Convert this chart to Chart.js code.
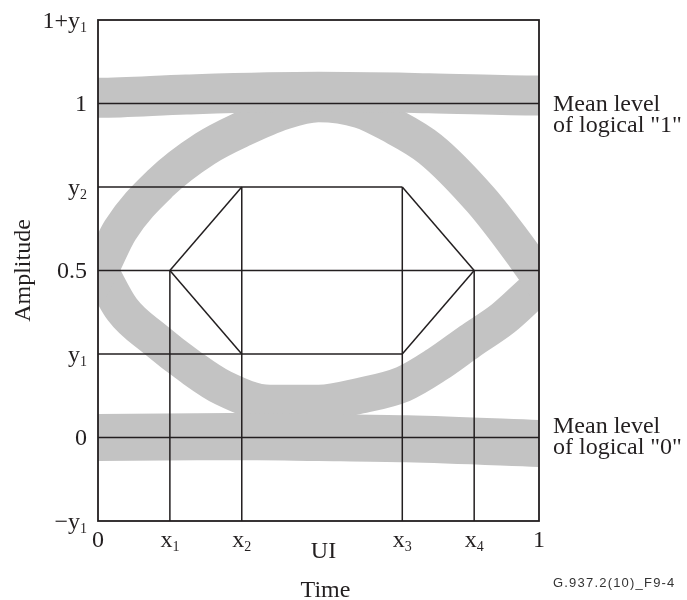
<!DOCTYPE html>
<html>
<head>
<meta charset="utf-8">
<script src="https://cdn.jsdelivr.net/npm/chart.js@4.4.1/dist/chart.umd.min.js"></script>
<style>
  html, body { margin: 0; padding: 0; background: #fff; }
  canvas { display: block; }
</style>
</head>
<body>
<canvas id="eye" width="687" height="600"></canvas>
<script>
// tick positions and labels (label = [main, subscript])
const xTickValues = [0, 0.163, 0.326, 0.69, 0.853, 1];
const xTickLabels = [["0", ""], ["x", "1"], ["x", "2"], ["x", "3"], ["x", "4"], ["1", ""]];
const yTickValues = [-0.25, 0, 0.25, 0.5, 0.75, 1, 1.25];
const yTickLabels = [["\u2212y", "1"], ["0", ""], ["y", "1"], ["0.5", ""], ["y", "2"], ["1", ""], ["1+y", "1"]];

// mask corners
const x1 = 0.163, x2 = 0.326, x3 = 0.69, x4 = 0.853;
const y1 = 0.25, y2 = 0.75;

// centre lines of the grey traces, [UI, amplitude]
const levelOneTrace = [[-0.02, 1.017], [0, 1.017], [0.2, 1.027], [0.5, 1.035], [0.75, 1.031], [1, 1.024], [1.02, 1.024]];
const levelZeroTrace = [[-0.02, 0], [0, 0], [0.3, 0.003], [0.5, 0], [0.7, -0.004], [1, -0.018], [1.02, -0.019]];
const eyeTopTrace = [[-0.03, 0.42], [0.005, 0.5], [0.05, 0.62], [0.143, 0.763], [0.243, 0.865], [0.33, 0.925],
  [0.42, 0.975], [0.5, 0.998], [0.594, 0.98], [0.663, 0.937], [0.753, 0.864], [0.867, 0.713], [0.935, 0.6],
  [0.995, 0.49], [1.03, 0.42]];
const eyeBottomTrace = [[-0.03, 0.58], [0.005, 0.5], [0.055, 0.383], [0.129, 0.294], [0.209, 0.212], [0.284, 0.148],
  [0.39, 0.104], [0.5, 0.104], [0.594, 0.125], [0.692, 0.16], [0.768, 0.218], [0.844, 0.289], [0.919, 0.357],
  [0.98, 0.43], [1.0, 0.455], [1.03, 0.52]];

const levelNames = [
  { value: 1, lines: ["Mean level", "of logical \"1\""] },
  { value: 0, lines: ["Mean level", "of logical \"0\""] }
];

// mask segments built from the corners
const maskSegments = [
  [[0, 1], [1, 1]],
  [[0, 0.5], [1, 0.5]],
  [[0, 0], [1, 0]],
  [[0, y2], [x3, y2]],
  [[0, y1], [x3, y1]],
  [[x1, 0.5], [x1, -0.25]],
  [[x2, y2], [x2, -0.25]],
  [[x3, y2], [x3, -0.25]],
  [[x4, 0.5], [x4, -0.25]],
  [[x1, 0.5], [x2, y2]],
  [[x1, 0.5], [x2, y1]],
  [[x3, y2], [x4, 0.5]],
  [[x3, y1], [x4, 0.5]]
];

const INK = "#231f20";
const BAND = "#c3c3c3";
const SERIF = '"Liberation Serif", "Times New Roman", serif';

const toPoints = arr => arr.map(([x, y]) => ({ x, y }));

const datasets = [];
maskSegments.forEach(seg => {
  datasets.push({
    data: toPoints(seg),
    showLine: true,
    borderColor: INK,
    borderWidth: 1.5,
    pointRadius: 0,
    clip: 0,
    order: 0
  });
});
[[levelOneTrace, 40], [levelZeroTrace, 47], [eyeTopTrace, 36], [eyeBottomTrace, 36]].forEach(([trace, w]) => {
  datasets.push({
    data: toPoints(trace),
    showLine: true,
    borderColor: BAND,
    borderWidth: w,
    borderJoinStyle: "round",
    cubicInterpolationMode: "monotone",
    pointRadius: 0,
    clip: 0,
    order: 1
  });
});

function drawLabel(ctx, parts, x, y, align) {
  ctx.font = "24px " + SERIF;
  const w1 = ctx.measureText(parts[0]).width;
  ctx.font = "14px " + SERIF;
  const w2 = parts[1] ? ctx.measureText(parts[1]).width : 0;
  const total = w1 + w2;
  let sx = x;
  if (align === "right") sx = x - total;
  if (align === "center") sx = x - total / 2;
  ctx.textAlign = "left";
  ctx.textBaseline = "alphabetic";
  ctx.font = "24px " + SERIF;
  ctx.fillText(parts[0], sx, y);
  if (parts[1]) {
    ctx.font = "14px " + SERIF;
    ctx.fillText(parts[1], sx + w1, y + 4);
  }
}

const labelsPlugin = {
  id: "eyeLabels",
  afterDatasetsDraw(chart) {
    const ctx = chart.ctx;
    const area = chart.chartArea;
    const xs = chart.scales.x;
    const ys = chart.scales.y;
    ctx.save();
    ctx.strokeStyle = INK;
    ctx.lineWidth = 1.8;
    ctx.strokeRect(area.left, area.top, area.right - area.left, area.bottom - area.top);

    ctx.fillStyle = INK;
    yTickValues.forEach((v, i) => {
      drawLabel(ctx, yTickLabels[i], area.left - 11, ys.getPixelForValue(v) + 7.5, "right");
    });
    xTickValues.forEach((v, i) => {
      drawLabel(ctx, xTickLabels[i], xs.getPixelForValue(v), area.bottom + 26, "center");
    });

    const midX = (area.left + area.right) / 2 + 5;
    drawLabel(ctx, ["UI", ""], midX, area.bottom + 37, "center");
    drawLabel(ctx, ["Time", ""], midX + 2, area.bottom + 76, "center");

    ctx.save();
    ctx.translate(24, (area.top + area.bottom) / 2);
    ctx.rotate(-Math.PI / 2);
    ctx.font = "24px " + SERIF;
    ctx.textAlign = "center";
    ctx.textBaseline = "middle";
    ctx.fillText("Amplitude", 0, 0);
    ctx.restore();

    levelNames.forEach(item => {
      const py = ys.getPixelForValue(item.value);
      const base = item.value > 0.5 ? py + 7 : py - 5;
      item.lines.forEach((line, k) => {
        drawLabel(ctx, [line, ""], area.right + 14, base + k * 21, "left");
      });
    });

    ctx.font = '13px "Liberation Sans", Arial, sans-serif';
    ctx.letterSpacing = "1.2px";
    ctx.fillStyle = "#333";
    ctx.textAlign = "left";
    ctx.fillText("G.937.2(10)_F9-4", 553, 587);
    ctx.restore();
  }
};

new Chart(document.getElementById("eye"), {
  type: "scatter",
  data: { datasets },
  options: {
    responsive: false,
    animation: false,
    layout: { padding: { left: 98, right: 148, top: 20, bottom: 79 } },
    plugins: { legend: { display: false }, tooltip: { enabled: false } },
    events: [],
    scales: {
      x: { type: "linear", min: 0, max: 1, display: false },
      y: { type: "linear", min: -0.25, max: 1.25, display: false }
    }
  },
  plugins: [labelsPlugin]
});
</script>
</body>
</html>
